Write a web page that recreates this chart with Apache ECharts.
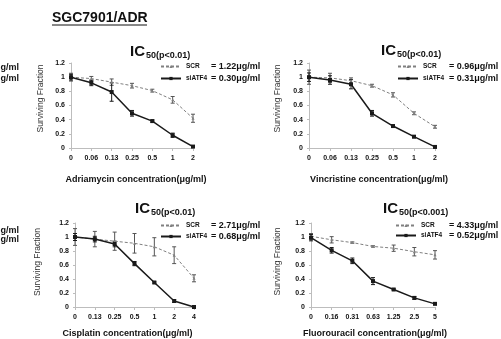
<!DOCTYPE html>
<html><head><meta charset="utf-8">
<script src="https://cdn.jsdelivr.net/npm/echarts@6/dist/echarts.min.js"></script>
<style>html,body{margin:0;padding:0;background:#fff}#c{width:501px;height:339px}</style>
</head><body><div id="c"></div>
<script>
const FONT = '"Liberation Sans", Arial, sans-serif';

// ---- data ----
const catAdr = ['0','0.06','0.13','0.25','0.5','1','2'];
const catVin = ['0','0.06','0.13','0.25','0.5','1','2'];
const catCis = ['0','0.13','0.25','0.5','1','2','4'];
const catFlu = ['0','0.16','0.31','0.63','1.25','2.5','5'];

const adrSCR    = [1.00,0.98,0.93,0.88,0.81,0.68,0.42];
const adrSCRerr = [0.055,0.03,0.045,0.033,0.02,0.047,0.057];
const adrSi     = [1.00,0.92,0.79,0.49,0.38,0.18,0.02];
const adrSiErr  = [0.04,0.04,0.13,0.04,0.015,0.03,0.01];

const vinSCR    = [1.00,0.99,0.95,0.88,0.75,0.49,0.30];
const vinSCRerr = [0.10,0.065,0.04,0.02,0.03,0.02,0.02];
const vinSi     = [1.00,0.96,0.90,0.49,0.31,0.16,0.015];
const vinSiErr  = [0.06,0.06,0.065,0.04,0.01,0.015,0.01];

const cisSCR    = [1.00,0.97,0.94,0.91,0.86,0.74,0.41];
const cisSCRerr = [0.12,0.11,0.13,0.14,0.13,0.12,0.05];
const cisSi     = [1.00,0.97,0.90,0.62,0.35,0.086,0.0];
const cisSiErr  = [0.05,0.04,0.04,0.03,0.01,0.02,0.005];

const fluSCR    = [1.01,0.96,0.92,0.865,0.84,0.79,0.745];
const fluSCRerr = [0.04,0.045,0.01,0.01,0.045,0.06,0.06];
const fluSi     = [0.99,0.81,0.66,0.37,0.25,0.13,0.045];
const fluSiErr  = [0.045,0.04,0.04,0.05,0.01,0.02,0.01];

const ic50SCR = ['1.22','0.96','2.71','4.33'];
const ic50Si  = ['0.30','0.31','0.68','0.52'];
const pText   = ['(p<0.01)','(p<0.01)','(p<0.01)','(p<0.001)'];
const xNames  = ['Adriamycin concentration(μg/ml)','Vincristine concentration(μg/ml)',
                 'Cisplatin concentration(μg/ml)','Fluorouracil concentration(μg/ml)'];
const yName = 'Surviving Fraction';
const titleText = 'SGC7901/ADR';

const cats = [catAdr, catVin, catCis, catFlu];
const scr = [adrSCR, vinSCR, cisSCR, fluSCR];
const scrErr = [adrSCRerr, vinSCRerr, cisSCRerr, fluSCRerr];
const si = [adrSi, vinSi, cisSi, fluSi];
const siErr = [adrSiErr, vinSiErr, cisSiErr, fluSiErr];

// ---- layout ----
const L = [
  {grid:{left:71, top:63, width:122, height:85}, yGap:26, yPad:[0,0,0,14], xGap:27, xPad:[0,0,0,8],
   leg:{left:160, top:62, gap:3}, aW:25, ic:{x:130, y:52}},
  {grid:{left:309, top:63, width:126, height:85}, yGap:27, yPad:[0,0,0,14], xGap:27, xPad:[0,0,0,14],
   leg:{left:397, top:62, gap:3}, aW:26, ic:{x:381, y:51}},
  {grid:{left:75, top:223, width:119, height:84}, yGap:33, yPad:[0,0,0,6], xGap:22, xPad:[0,14,0,0],
   leg:{left:160, top:221, gap:2}, aW:25, ic:{x:135, y:209}},
  {grid:{left:311, top:223, width:124, height:84}, yGap:29, yPad:[0,0,0,7], xGap:22, xPad:[0,0,0,4],
   leg:{left:395, top:221, gap:1}, aW:28, ic:{x:383, y:209}}
];

const SCR_COLOR = '#808080';
const SI_COLOR = '#1a1a1a';

function errSeries(p, vals, errs, color, name) {
  return {
    type:'custom', name:name, xAxisIndex:p, yAxisIndex:p, z:3,
    data: vals.map((v,i)=>[i, v-errs[i], v+errs[i]]),
    encode:{x:0, y:[1,2]},
    renderItem:function(params, api){
      const i = api.value(0);
      const lo = api.coord([i, api.value(1)]);
      const hi = api.coord([i, api.value(2)]);
      const w = 2;
      const st = {stroke:color, lineWidth:1};
      return {type:'group', children:[
        {type:'line', shape:{x1:lo[0], y1:lo[1], x2:hi[0], y2:hi[1]}, style:st},
        {type:'line', shape:{x1:lo[0]-w, y1:lo[1], x2:lo[0]+w, y2:lo[1]}, style:st},
        {type:'line', shape:{x1:hi[0]-w, y1:hi[1], x2:hi[0]+w, y2:hi[1]}, style:st}
      ]};
    },
    silent:true
  };
}

const grids = [], xAxes = [], yAxes = [], series = [], legends = [], graphics = [];
L.forEach((l, p) => {
  grids.push(l.grid);
  xAxes.push({
    type:'category', gridIndex:p, data:cats[p], boundaryGap:false,
    axisLine:{lineStyle:{color:'#bdbdbd', width:1}},
    axisTick:{show:true, length:3, alignWithLabel:true, lineStyle:{color:'#bdbdbd'}},
    axisLabel:{fontFamily:FONT, fontSize:7, fontWeight:'bold', color:'#111', margin:7, interval:0},
    name:xNames[p], nameLocation:'middle', nameGap:l.xGap,
    nameTextStyle:{fontFamily:FONT, fontSize:9, fontWeight:'bold', color:'#111', padding:l.xPad}
  });
  yAxes.push({
    type:'value', gridIndex:p, min:0, max:1.2, interval:0.2,
    axisLine:{show:true, lineStyle:{color:'#bdbdbd', width:1}},
    axisTick:{show:true, length:2, lineStyle:{color:'#bdbdbd'}},
    splitLine:{show:false},
    axisLabel:{fontFamily:FONT, fontSize:7, fontWeight:'bold', color:'#111', margin:6},
    name:yName, nameLocation:'middle', nameGap:l.yGap,
    nameTextStyle:{fontFamily:FONT, fontSize:8.5, color:'#333', padding:l.yPad}
  });
  series.push({
    type:'line', name:'SCR', xAxisIndex:p, yAxisIndex:p, data:scr[p],
    symbol:'triangle', symbolSize:3, z:4,
    lineStyle:{color:SCR_COLOR, width:1, type:[3,2]},
    itemStyle:{color:SCR_COLOR}, emphasis:{disabled:true}
  });
  series.push({
    type:'line', name:'siATF4', xAxisIndex:p, yAxisIndex:p, data:si[p],
    symbol:'rect', symbolSize:4, z:4,
    lineStyle:{color:SI_COLOR, width:1.5, type:'solid'},
    itemStyle:{color:SI_COLOR}, emphasis:{disabled:true}
  });
  series.push(errSeries(p, scr[p], scrErr[p], '#555', 'SCR err'));
  series.push(errSeries(p, si[p], siErr[p], SI_COLOR, 'siATF4 err'));
  legends.push({
    left:l.leg.left, top:l.leg.top, orient:'vertical', padding:0, itemGap:l.leg.gap,
    itemWidth:20, itemHeight:4, selectedMode:false, data:['SCR','siATF4'],
    formatter: (name) => '{a|' + name + '}{b|= ' + (name === 'SCR' ? ic50SCR[p] : ic50Si[p]) + 'μg/ml}',
    textStyle:{rich:{
      a:{fontFamily:FONT, fontSize:6.5, fontWeight:'bold', color:'#111', width:l.aW, lineHeight:10},
      b:{fontFamily:FONT, fontSize:9, fontWeight:'bold', color:'#111', lineHeight:10}
    }}
  });
  graphics.push({type:'text', left:l.ic.x, top:l.ic.y - 8, style:{text:'IC', font:'bold 15px ' + FONT, fill:'#111'}});
  graphics.push({type:'text', left:l.ic.x + 16, top:l.ic.y - 1, style:{text:'50' + pText[p], font:'bold 9px ' + FONT, fill:'#111'}});
});

graphics.push({type:'text', left:52, top:11, style:{text:titleText, font:'bold 14px ' + FONT, fill:'#111'}});
graphics.push({type:'line', shape:{x1:52, y1:25, x2:147, y2:25}, style:{stroke:'#111', lineWidth:1}});
// cut-off labels from neighbouring panels at the left edge
[63, 74, 226, 235].forEach(y => {
  graphics.push({type:'text', left:-5, top:y, style:{text:'μg/ml', font:'bold 9px ' + FONT, fill:'#111'}});
});

const chart = echarts.init(document.getElementById('c'), null, {renderer:'canvas'});
chart.setOption({
  animation:false,
  backgroundColor:'#fff',
  grid:grids, xAxis:xAxes, yAxis:yAxes, series:series, legend:legends, graphic:graphics
});
</script></body></html>
